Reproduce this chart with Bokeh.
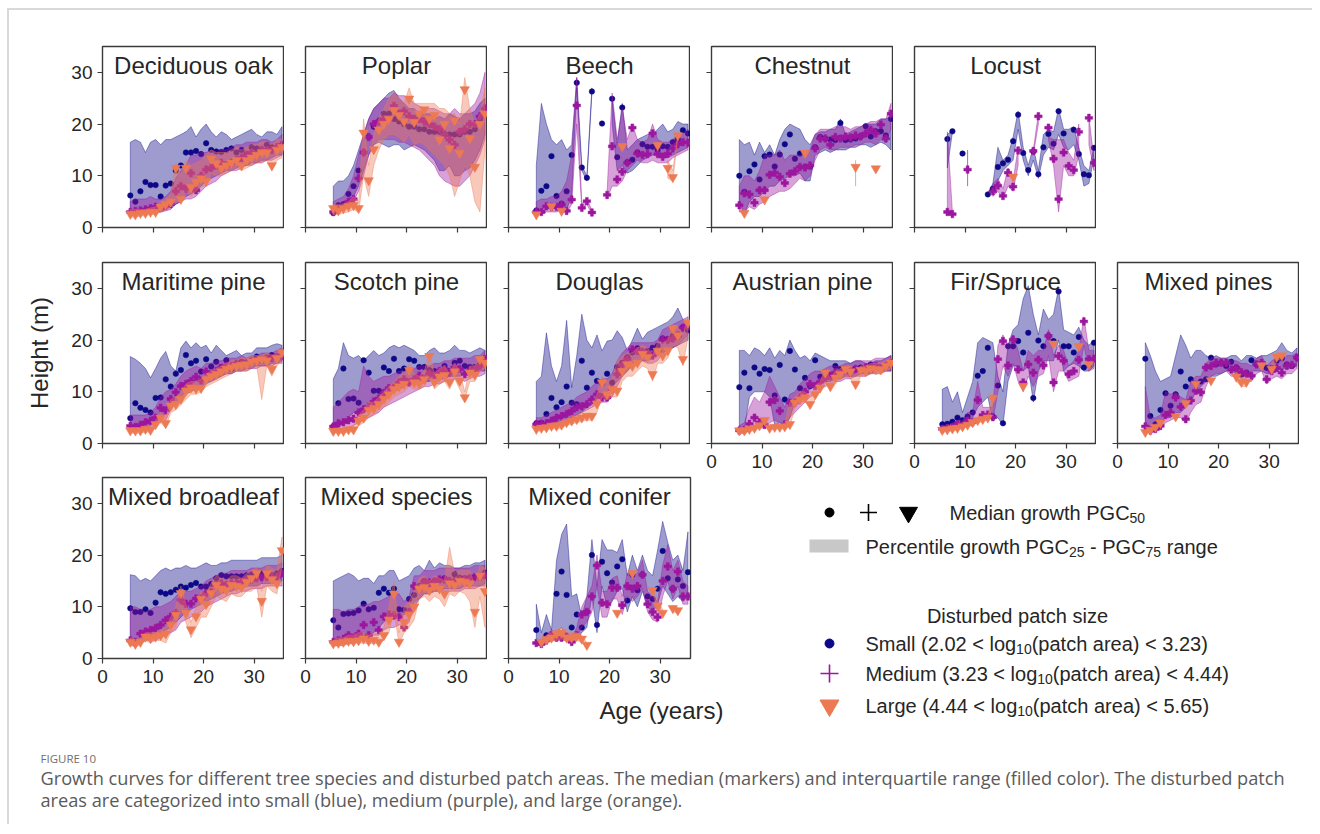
import math
from bokeh.plotting import figure
from bokeh.layouts import row, column
from bokeh.models import Range1d, FixedTicker, Label
from bokeh.core.properties import value
from bokeh.embed import file_html
from bokeh.resources import INLINE

N = float("nan")

ages = [5.5, 6.5, 7.5, 8.5, 9.5, 10.5, 11.5, 12.5, 13.5, 14.5, 15.5, 16.5, 17.5, 18.5, 19.5, 20.5,
        21.5, 22.5, 23.5, 24.5, 25.5, 26.5, 27.5, 28.5, 29.5, 30.5, 31.5, 32.5, 33.5, 34.5, 35.5]
x_ticks = [0, 10, 20, 30]
y_ticks = [0, 10, 20, 30]

# ---------------- Deciduous oak ----------------
oak_s_med = [6.2,5.0,7.0,8.8,8.2,8.2,6.0,8.1,8.5,11.0, 12.0,14.5,14.5,14.8,14.2,16.3,15.0,14.7,14.6,15.0, 15.3,14.5,15.0,14.2,15.5,15.3,15.0,16.0,15.5,15.3, 16.0]
oak_s_lo = [3,3,3,3,3,3,3,3.5,4,4.5, 5,6,6.5,7,8,9,9.5,10,10.5,11, 11,11.5,12,12,12.5,12.5,13,13,13.5,14, 14]
oak_s_hi = [16.5,17,16.5,14.5,16.5,17,16,17,17,17.5, 18,18.5,19.5,17.5,19,20,18.5,17.5,18.5,18, 17,17.5,18,18.5,19,18,17.5,18.5,18.5,18, 19.5]
oak_m_med = [3,3.2,3.3,3.5,3.7,4,3.8,4.2,4.5,7, 8,7.5,10.5,7.2,10,11.2,11.5,12,12.5,12, 12.5,13,13.5,14,14.5,14,15,15,15,15.5, 16]
oak_m_lo = [2.5,2.5,2.5,2.7,3,3,3,3.2,3.5,4.5, 5,5.5,5.5,6,7,8,8.5,9,10,10.5, 11,11,11.5,12,12,12.5,12.5,13,13,13.5, 14]
oak_m_hi = [5,5.5,5.5,5.5,6,5.5,5.5,6,7,9.5, 11,12,14,14,14.5,14.5,15,14.5,15,15, 15.5,16,16,16.5,16.5,16.5,17,17,16.5,17, 18]
oak_l_med = [2.6,2.5,2.8,2.8,3,3,4,4.5,5,11.5, 5.5,11.5,7.8,8.8,9.5,9,13.3,12.4,11.5,12, 12.5,13,12,13,13.5,14,14.5,14.5,12,15, 15.5]
oak_l_lo = [2,2,2.2,2.3,2.5,2.5,3,3.5,4,5, 5,7,6,7,8,8,10.5,10,10,10.5, 11,11.5,11,11.5,12,12.5,12.5,13,11,13, 13.5]
oak_l_hi = [3.5,3.5,3.5,3.5,3.8,4,5,5.5,6.5,12.5, 10,13,12,12.5,13,14,15,14.5,14.5,14.5, 15,15.5,15,15.5,16,16,16.5,16.5,16,17, 17]

# ---------------- Poplar ----------------
pop_s_med = [2.8,4.3,4.5,6.5,8,11,14.5,17.5,19.5,20.5, 22,22,21,20.5,20,19.5,19.5,19,19,18.5, 18.5,18.5,18,18,18,18,18.5,18.5,19,21, 22]
pop_s_lo = [2.5,3,3.5,4.5,6,8,11,14,16,16.5, 16,15.5,16,16,15,15.5,16,15.5,15,14, 13,11,11,12,10,10,11,11.5,13,15, 18]
pop_s_hi = [8,9,9,10,12,15,18,21,23,24, 25,26,26.5,25,24,23,23,22,22,22, 21,21.5,21,22,21.5,21,22,22,22.5,24, 25]
pop_m_med = [3,3.5,4,5,5.5,9.5,14.5,17.5,20,20.5, 21,21,23.5,22,22.5,21.5,21,21,20.5,20, 19.5,19,18,17,16,18.5,19,20,20,21.5, 23]
pop_m_lo = [2.5,3,3.5,4,5,7,10,14,16,17, 17,17,17,16.5,16.5,16,15.5,15,14,13, 12,10,9,8.5,8,8,9,10,12,14, 17]
pop_m_hi = [5,5.5,6,7.5,10,14,18,21,23,24, 25,25,26,25.5,25.5,25,24,23.5,23,23, 23,22.5,22,22,23,22,22,23,24,26, 30]
pop_l_med = [3.7,3.3,3.7,4.1,4.3,3.7,18.3,9.1,15.1,18.9, 20,21,22.7,21.7,20.5,24.9,20.4,22,22.8,21, 21.7,17,20,15.3,20.7,14.4,26.7,17.2,11.7,20, 22]
pop_l_lo = [2.5,2.5,2.8,3,3.5,3,10,6,12,15, 17,18,18,17.5,16.5,18,16,16.5,16,15, 14,13,12,10,6,9,12,10,5,3, 15]
pop_l_hi = [4.5,4.5,4.5,5,6,5,21,12,18,21, 23,25,26,25,24,27,24,24,24,24, 24,23,23,22,22,20,29,23,20,22, 27]

# ---------------- Beech ----------------
bee_s_med = [3.3,7.1,8,13.8,6.1,4.6,7,14,28,11.6, 9.6,26.3,N,20.1,N,24.9,13.6,23.2,12.6,13.1, 14.5,16.1,15.6,15.6,15,15.7,15.6,16.5,17,18.8, 18.2]
bee_s_lo = [3,3,3.5,4,3.5,3,3.5,6,27,11, 9,26,N,20,N,20,11,12,10.5,11, 12,13,13.5,14,14,13.5,13.5,14,14.5,15, 15.5]
bee_s_hi = [12,24,20,17,16,17,15,16,29,12, 10,27,N,20.2,N,25,16,24,15,16, 17,17.5,18,18,19,20,18.5,19,20.5,20, 20]
bee_m_med = [3,3,4.1,4,4,4.4,3.2,5.4,23.6,3.8, 5.1,2.9,N,N,6.3,15.7,9.3,10.8,12.5,19.3, 14.3,14,14.2,18.2,14.2,13.7,14.3,15.3,16.1,16.5, 16.4]
bee_m_lo = [2.5,2.5,3,3,3,3.5,2.8,4.5,20,3.5, 4.5,2.5,N,N,5.5,8,8,9,11,12, 13,12.5,12.5,13,12.5,12.5,12.5,13.5,14,14.5, 15]
bee_m_hi = [5,5.5,5.5,6,6,7,9,14,29,4.5, 5.7,3.3,N,N,7,26,17,23,17,20, 17,16.5,17,20,17,16.5,16.5,17,18,18, 19]
bee_l_med = [2.5,N,N,4.1,N,3.2,N,N,N,N, N,N,N,N,N,N,N,15.7,N,N, N,N,N,N,15.9,N,11.5,9.7,17.8,N, N]
bee_l_lo = [2.2,N,N,3.8,N,2.9,N,N,N,N, N,N,N,N,N,N,N,15.4,N,N, N,N,N,N,15.6,N,9.5,9,17.5,N, N]
bee_l_hi = [2.8,N,N,4.4,N,3.5,N,N,N,N, N,N,N,N,N,N,N,16,N,N, N,N,N,N,16.2,N,13,11,18.1,N, N]

# ---------------- Chestnut ----------------
che_s_med = [10,6.9,10.9,12.2,9.3,13.8,14.1,11.8,14.1,16.1, 18,13.3,14.3,11.7,11.8,15.5,17.5,17.2,17,16.9, 20.2,16.9,17,17.2,17.6,19.6,17.6,18.6,18.6,17.8, 21]
che_s_lo = [5,2.5,5,6,6,7,8,8,9,9.5, 10,10,10.5,9,9,14,14.5,15,14.5,15, 15,15,15.5,15.5,16,16,15.5,16,16.5,16, 15]
che_s_hi = [17,16,16.5,14,16.5,14.5,16,14,17,19, 20,19.5,19,17,16,18,18.5,18.5,19,19, 21,18,18.5,19,19.5,20,20,20,21,21, 21.5]
che_m_med = [4.3,6.6,6.4,4.8,7.2,7.2,10.2,10.6,9.8,8.6, 10.4,10.9,11.7,11.6,12,15.3,17.2,17.2,16,17.5, 17.2,17.6,17.4,17.8,17.6,18.2,18.9,18.2,19.9,17.2, 22]
che_m_lo = [3,3,4,3.5,4.5,5,6,6.5,7,7, 7.5,8.5,9.5,9,10,13,15,15.5,15,15, 15.5,15.5,15.5,16,16,16.5,16.5,16,17,16.5, 19]
che_m_hi = [8,10,10,9,11,14,14,14,15,13, 14,14,14,14.5,15,18,19,19,19,19.5, 19.5,19.5,19,19.5,19.5,20,20.5,20.5,21,21, 24]
che_l_med = [N,2.8,N,N,N,5.4,N,N,N,N, N,N,N,14.4,N,N,N,N,N,N, N,N,N,11.7,N,N,N,11.4,N,N, N]
che_l_lo = [N,2.3,N,N,N,4.9,N,N,N,N, N,N,N,13.5,N,N,N,N,N,N, N,N,N,8,N,N,N,11,N,N, N]
che_l_hi = [N,3.3,N,N,N,5.9,N,N,N,N, N,N,N,15,N,N,N,N,N,N, N,N,N,13,N,N,N,11.8,N,N, N]

# ---------------- Locust ----------------
loc_s_med = [N,17.1,18.6,N,14.3,N,N,N,N,6.4, 7.5,11.7,12.4,13.1,16.7,21.8,14.4,11.1,14.7,10.3, 15.5,18.1,16.2,22.5,18.2,N,18.9,14.2,10.3,10.1, 15.4]
loc_s_lo = [N,11.5,18.4,N,14,N,N,N,N,6.2, 7,9,11,12,13,19,13,10,13,9.5, 14,15.5,15,18,15.5,15,16,13,8,8.5, 13.5]
loc_s_hi = [N,18,18.8,N,14.6,N,N,N,N,6.6, 8.5,15.5,13,14,17.5,22.5,15.5,12,15.5,11, 18,19,18.5,23,19,19,19.5,15.5,12,11, 15.6]
loc_m_med = [N,3,2.6,N,N,11.2,N,N,N,N, 7,8.1,6.1,10.6,7.9,14.9,N,N,14.8,21.5, N,19.3,13.3,5.5,14.5,11.9,11.1,18.5,N,21.2, 12.5]
loc_m_lo = [N,2.5,2.3,N,N,8,N,N,N,N, 6,7,5.5,8,7,12,N,N,14,20, N,17,12,3,12,10,10,14,N,16, 11]
loc_m_hi = [N,18.5,3,N,N,15,N,N,N,N, 8.5,9.5,7.5,11.5,9,15.5,N,N,15,22, N,17.5,17,17,17,14.5,13,20,N,21.5, 13]
loc_l_med = [N,N,N,N,N,N,N,N,N,N, N,N,N,N,9.8,N,N,N,N,N, N,N,N,N,N,N,N,N,N,N, N]
loc_l_lo = [N,N,N,N,N,N,N,N,N,N, N,N,N,N,9.3,N,N,N,N,N, N,N,N,N,N,N,N,N,N,N, N]
loc_l_hi = [N,N,N,N,N,N,N,N,N,N, N,N,N,N,10.3,N,N,N,N,N, N,N,N,N,N,N,N,N,N,N, N]

# ---------------- Maritime pine ----------------
mar_s_med = [4.9,7.8,6.9,6.5,6,8.8,8.9,12.4,11,13.5, 14.2,17.1,15.5,16,13.9,16.3,14.9,15.8,14.8,16.1, 14.4,15.5,15.8,15.6,16,16.8,16.3,16.6,17.1,16.8, 17.6]
mar_s_lo = [3,3,3,3,3.5,4,5,6,7,7.5, 8.5,9.5,10,10.5,11,11.5,12,12.5,13,13.5, 13.5,14,14,14.5,14.5,15,15,15,15.5,15.5, 16]
mar_s_hi = [16.8,16.3,15.5,14.5,12.7,14.5,16.5,17.8,15,14, 18.5,19.8,18.5,19.5,18.5,19,17.5,19,18,17, 17.5,18,17,17.5,17.5,18.5,18.5,18.5,19,19.3, 19]
mar_m_med = [3.4,3.2,3.6,4.1,4.4,5,6.9,6.4,8.6,9.9, 11.1,11.5,12.1,12.9,12.2,13.9,13.3,14,14.6,15, 15,15.3,15.5,15.5,15.8,16,16.2,16.3,16.5,16.7, 16.9]
mar_m_lo = [2.5,2.5,2.5,3,3,3.5,4.5,4.5,6.5,8, 9,10,10.5,11,11,12,12,12.5,13,13.5, 13.5,14,14,14,14.5,14.5,15,15,15,15.5, 15.5]
mar_m_hi = [5.5,5.5,5.5,5.5,6,7,9,10,10.5,11.5, 13,14,14.5,15,14.5,15.5,15.5,16,16,16.5, 16.5,16.5,17,16.5,17,17,17.5,17.5,17.5,18, 18.5]
mar_l_med = [2.5,2.5,2.5,2.8,2.6,3.7,5,3.9,7.3,7.6, 8.6,10.2,10.8,10.6,10.7,12.4,13,13.4,13.9,14.4, 14.7,15,15.2,15.3,15.8,16,16.3,16,14.4,16.5, 17.6]
mar_l_lo = [2,2,2,2.2,2.2,3,4,3,6,6.5, 7.5,8.5,9.5,9.5,10,11,11.5,12,12.5,13, 13.5,14,14,14,14.5,15,8.5,15,13,15, 16]
mar_l_hi = [3,3,3,3.5,3.5,4.5,6,5,8.5,9, 10,11.5,12,12,12.5,13.5,14,14.5,15,15.5, 16,16,16.5,16.5,17,17,17,17.5,17,17.5, 18.5]

# ---------------- Scotch pine ----------------
sco_s_med = [3.3,7.8,14.5,8.6,8.7,7.9,16.1,13.7,10.2,10.2, 14.7,14,16.4,14,14.5,16.3,16,14.8,14.8,14.2, 14,14,15,14,15.6,16,15,14.8,14.8,15.3, 15.6]
sco_s_lo = [3,3,4,5,6,5.5,6,6.5,7,8, 9,9.5,10,10.5,11,11.5,11.5,12,12,12, 12.5,12.5,12.5,13,13,13,13.5,13.5,13.5,14, 14]
sco_s_hi = [12.5,14.5,19.5,17,16.5,17,16,17,18,17, 17.5,18.5,19,18.5,19,18.5,18,17,17,18, 18.5,17.5,17.5,18,19,18,18,17.5,18,18.5, 18]
sco_m_med = [3.3,3.9,4.1,4.5,4.8,6,6.6,7.1,8.1,8.7, 9.8,10.7,10.8,11.8,12.4,11.8,12.4,13.1,12.4,13.5, 13.2,14,14.4,13.7,14.7,14.4,13.4,14.1,14.4,15, 16.3]
sco_m_lo = [2.5,2.5,3,3,3.5,4,4.5,5,5.5,6, 7,7.5,8,8.5,9,9.5,10,10.5,11,11, 11.5,11.5,12,12,12.5,12.5,12,12.5,13,13, 13.5]
sco_m_hi = [7,8,9,10,10.5,10,15,13,12,12.5, 13,13,13.5,14,14,14,14.5,15,15,15, 15.5,15.5,16,16,16.5,16.5,16.5,16.5,17,17, 18]
sco_l_med = [2.4,2.4,2.4,2.7,2.7,4.4,5,6.5,6.8,7.6, 8.6,9.5,10.5,11,11.5,14.2,11.8,11.6,12.4,16.9, 11.9,12.9,13.2,11.9,13.9,12.1,8.9,13.7,13.3,16.3, 15.6]
sco_l_lo = [2,2,2,2.2,2.2,3.5,4,5,5.5,6.5, 7,8,9,9.5,10,11,10.5,10.5,11,13, 10.5,11.5,12,10.5,12.5,10.5,8.5,12,12,14, 14.5]
sco_l_hi = [3,3,3,3.2,3.5,5.5,6.5,8,8,9, 10,11,12,13,13.5,15.5,13.5,13,14,17.5, 13.5,14.5,15,13.5,15.5,14,10,15,15,17, 16.5]

# ---------------- Douglas ----------------
dou_s_med = [3.9,4,5.7,8.8,7,8,11,7.9,7.6,16, 10.8,13.7,12.1,11.6,13.5,11.8,14.8,15.6,16.7,17.6, 18.4,17.3,17.9,18.5,18.9,20.3,20.2,20.8,21.1,22.5, 21.9]
dou_s_lo = [3,3,3,3.5,3.5,4,4.5,5,5.5,6, 7,7.5,8.5,9.5,10,11,12,13,14,15, 15.5,16,16,16.5,17,17.5,18,18.5,19,19.5, 20]
dou_s_hi = [12,13,21.4,15,12,15,23.8,10.8,17,25, 20,18.5,21,17.9,19.8,20,21.8,20.5,18,20, 22.3,20.2,21.5,22,22.5,23,23.5,24.5,26.2,24, 23.4]
dou_m_med = [3.7,3.8,3.9,4.4,5,5.3,5.7,6.3,7,7.2, 7.6,8.5,9.5,8.9,8.9,10.5,13.4,15.2,16.3,18.2, 17.9,17.7,17.3,17,17.9,20.1,20,20.3,20.8,22.4, 22.7]
dou_m_lo = [3,3,3,3.5,4,4.5,4.5,5,5.5,6, 6.5,7,7.5,8,8,9,11,13,14,15.5, 16,16,15.5,15.5,16,17.5,18,18.5,19,20, 21]
dou_m_hi = [5,5,5.5,6,6.5,7,7.5,8,9,9.5, 10,11,12,12.5,12.5,13.5,16,17.5,18.5,19.5, 19.5,19.5,19.5,19.5,20,22,22.5,23,23.5,24, 24.5]
dou_l_med = [2.8,3,3.1,3.4,3.4,3.6,4.1,4.4,4.7,5, 5.3,5.3,7.7,11.8,9.5,10.5,10.2,14,15.3,15, 15.6,17.3,16.7,13.4,17.9,17,18,22.3,20.9,16.3, 23.4]
dou_l_lo = [2.3,2.5,2.6,2.8,2.8,3,3.5,3.8,4,4.3, 4.5,4.5,6,9,8.5,9,9,12,13,13, 14,15,14.5,12,15.5,15.5,16.5,19,18.5,15, 20.5]
dou_l_hi = [3.3,3.5,3.6,4,4,4.2,4.7,5,5.5,6, 6.5,7,9.5,13,12,12.5,16,17,17.5,17.5, 18.5,19,18.5,17,19.5,19.5,20,23,22.5,21, 24.5]

# ---------------- Austrian pine ----------------
aus_s_med = [10.9,13.7,10.7,14.7,13.5,14.4,14.2,9.3,15.2,8.5, 17.9,14.3,10.7,12.7,11.1,16.1,12.9,13.7,12.9,15, 14.4,14,14,14.5,14.7,14.3,15.3,15,14.8,15, 15.6]
aus_s_lo = [2.5,2.8,9,10,10,10,9,3.5,4,3.5, 5,8,9,10,10.5,11,11.5,12,12,12.5, 12.5,13,13,13,13.5,13.5,13.5,14,14,14, 14]
aus_s_hi = [18,18,17,18.5,18,17,18.5,16.5,18,17, 20,18,16.5,17,16,17.5,17,16.5,16,16, 16,16,15.5,16,16,15.5,15.5,16,16,16.5, 17]
aus_m_med = [2.5,2.6,3.8,5,4.1,3.6,8,8.4,6.3,3.7, 7.9,7.9,8.9,10,11.5,11.1,11.9,12.6,13.1,13.7, 13.5,14.2,13.7,14.4,14.2,14.7,14.5,15,14.6,15, 15.6]
aus_m_lo = [2,2,2.5,3,3,3,4,4.5,4,3, 5,6,7,8,9,9.5,10.5,11,11.5,12, 12,12.5,12.5,13,13,13,13.5,13.5,13.5,14, 14]
aus_m_hi = [3.5,4,7,9,8,10,13,11,9,7, 9.5,10,11.5,12.5,13.5,14,14,14.5,15,15, 15,15.5,15.5,16,16,16,16,16.5,16.5,16.5, 17]
aus_l_med = [2.5,2.5,2.8,3,3.5,4.5,3,3.2,3.2,3.3, 3.7,7.9,8.5,8.9,7.6,9.5,10.8,13.7,11.1,12.7, 13.4,14.4,13.9,11.5,14.2,14,14.5,14.3,14.3,15, 15.6]
aus_l_lo = [2,2,2.3,2.5,3,4,2.5,2.8,2.8,2.8, 3.2,7,8,8,7,8.5,10,12,10,11.5, 12.5,13,12.5,10.5,13,13,13.5,13.5,13.5,14, 14.5]
aus_l_hi = [3,3,3.3,3.5,4,5,3.5,3.6,3.6,3.8, 8,9,10,10,9,11,12,14.5,12.5,14, 14.5,15,15,13,15,15,15.5,15.5,15.5,16, 16.5]

# ---------------- Fir/Spruce ----------------
fir_s_med = [3.7,3.8,4.2,5,4.5,5.2,6,13.1,14,18.5, 5.2,11.2,3.9,18.8,18.8,19.8,17.6,21.4,8.8,19.9, 18.8,20.8,19.8,29.4,18.8,18.8,17.6,20.6,14.7,15.2, 19.5]
fir_s_lo = [3,3,3.5,4,4,4.5,5,7,8,9, 4.5,5,3.5,12,15,15,14,15,8,14, 16,16,16,20,14,15,15.5,15,14,14, 15]
fir_s_hi = [10.5,11,8,10,6,9,12,19.5,20.5,20, 19.5,13,10,19,22,23,28,30.5,25,21, 26,24,25,30,22,21.5,21,22.5,20,19, 20]
fir_m_med = [2.8,3,3.1,3.7,3.5,4.4,4.1,8.4,5.5,5.6, 5.1,16.3,19.8,15.1,20.1,14.3,11.8,15.3,13.7,16.2, 15.1,20.8,11.8,16.9,16,13.4,14,16.2,23.6,16.3, 16.4]
fir_m_lo = [2.5,2.5,2.5,3,3,3.5,3.5,5,4.5,5, 4.5,10,15,13,15.5,12,10,13,11,13, 13.5,17,10,14,14,12,12.5,13,19,14, 14.5]
fir_m_hi = [3.5,3.5,4,4.5,4.5,6,6,12,7,7, 7,19,21,19,21,18,14,18,17,18, 18,22,17,19,18,15,16,18,24.5,18, 18]
fir_l_med = [2.6,2.7,2.9,3,3.3,3.6,4.1,4.5,4.7,5, 8.8,N,N,N,N,N,11.1,N,N,N, N,N,19.3,N,N,N,N,18.8,N,15.3, N]
fir_l_lo = [2.2,2.3,2.5,2.6,2.9,3.2,3.6,4,4.2,4.5, 7,N,N,N,N,N,10.6,N,N,N, N,N,18.8,N,N,N,N,18.3,N,14.8, N]
fir_l_hi = [3,3.1,3.3,3.4,3.7,4,4.6,5,5.2,5.5, 9.5,N,N,N,N,N,11.6,N,N,N, N,N,19.8,N,N,N,N,19.3,N,15.8, N]

# ---------------- Mixed pines ----------------
mpi_s_med = [16.4,5.3,3.7,6.5,9.7,7.3,9.5,13.9,11,12.4, 11.6,12,12.4,16.6,15.3,15.6,15,15.8,14.7,13.3, 13.7,16.1,15.3,15.4,14.6,14.6,16,16.5,15.3,15, 16.6]
mpi_s_lo = [3,3,3,4,5,5,6,6,7,8, 10,11,12,13,13,13.5,14,14,13.5,13, 13,14,14,14,13.5,13.5,14,14.5,14.5,14.5, 15]
mpi_s_hi = [19.5,17,14,12,12.5,13,17,21,19,16.5, 18,18,17,16.5,17,16.5,16.5,17,17,16, 17,17,16.5,17,17,17.5,18,19.5,18,17.5, 18.5]
mpi_m_med = [3.3,2.5,2.8,3.4,5.5,6,8.9,7.1,4.7,8.3, 10.2,9.9,14.7,15,15.6,15.6,15.6,14.3,14.6,13.8, 13.5,13.1,15.3,15.6,12.4,14,14.6,13.7,15,15.2, 16.6]
mpi_m_lo = [2.5,2,2.3,2.7,4,4.5,5,5,4,6, 7.5,8,11,13,13.5,13.5,14,13,13,12.5, 12,12,13.5,14,11.5,12.5,13,12.5,13.5,13.5, 14.5]
mpi_m_hi = [11,5,5,5.5,10,9.5,10,9,8.5,12, 13,13,15.5,16.5,16.5,16.5,16.5,16,16,15.5, 15.5,15,16.5,17,15,16,16.5,16,17,17, 17.5]
mpi_l_med = [2.2,2.6,3.2,4,N,N,5.2,N,7.8,N, 11.5,N,N,12.2,N,N,N,N,12.9,11.9, 11.9,N,N,15.1,N,14.4,16.8,17,N,N, N]
mpi_l_lo = [1.8,2.2,2.8,3.5,N,N,4.7,N,7,N, 10.5,N,N,11.5,N,N,N,N,12,11, 11,N,N,14.5,N,13.5,16,16.5,N,N, N]
mpi_l_hi = [2.6,3,3.6,4.5,N,N,5.7,N,8.5,N, 12.5,N,N,13,N,N,N,N,13.8,12.8, 12.8,N,N,15.7,N,15.3,17.5,17.5,N,N, N]

# ---------------- Mixed broadleaf ----------------
mbr_s_med = [9.7,9,9,9.5,8.8,10.8,12.8,12.5,12.8,13.3, 13.9,13.7,14.2,14.6,13.9,13.9,14.4,15.5,16.1,15.9, 15.9,15.9,15.9,16.1,16.3,16.5,16.5,16.5,16.1,16.5, 16.9]
mbr_s_lo = [3,3,3,3.5,4,4.5,5,5.5,6,7, 8,9,9.5,10,10.5,11,11.5,12,12.5,13, 13,13.5,13.5,14,14,14,14.5,14.5,14.5,14.5, 15]
mbr_s_hi = [16.2,16,15,15.5,15,16,17,17.5,17,17.5, 17.5,18,17.5,17.5,18,18.5,18,18,18.5,18.5, 19,19,19,19,19,19,19.5,19.5,19.5,19.5, 20]
mbr_m_med = [3.5,3.2,4.8,5.2,5.5,5.9,6.5,7.4,8.1,8.8, 11.3,10.6,10.6,11.6,11.6,12.6,12.8,14.2,14.5,14.2, 14.5,14.6,14.8,15.2,15.2,15.5,15.7,15.8,15.8,15.8, 16.5]
mbr_m_lo = [2.5,2.5,3,3.5,3.5,3.5,4,4.5,5,5.5, 7,7.5,8,8.5,9,10,10.5,11,11.5,12, 12.5,12.5,13,13,13.5,13.5,13.5,14,14,14, 14]
mbr_m_hi = [10,10,9.5,9,9.5,10,10,10.5,11,12, 13,13,13,13.5,14,15,15.5,16,16.5,16.5, 17,17,17,17,17.5,17.5,17.5,18,18,18, 18.5]
mbr_l_med = [3.2,2.8,3.2,4.2,3.9,4.2,4.5,4.8,6.5,8.4, 12.6,8.8,5.6,8.1,11.5,10.5,12.6,14.2,13.5,13.2, 14.2,14,13.8,14.8,15.5,16.5,11.1,16.5,15.3,14.5, 20.9]
mbr_l_lo = [2.5,2.3,2.5,3.5,3,3.5,3.5,3,5,6, 10,7,4,6,8,8,10,12,11.5,11, 12.5,12,12,13,13,14,8,14,13,12.5, 18]
mbr_l_hi = [4,3.5,4,5,5,5,5.5,6,8,10, 14,10.5,7,10,13,12.5,14.5,16,15.5,15, 16,16,15.5,16.5,17,17.5,13,18,17.5,17, 23.5]

# ---------------- Mixed species ----------------
msp_s_med = [7.4,6,8.6,8.7,8.8,9.3,10.6,9.5,9.8,12.7, 13.5,12.7,13.5,9.5,9.4,11.5,12.3,14,15,14.5, 15,15.2,15.5,14.4,16.3,15.6,15.5,15.6,15.8,16, 16.6]
msp_s_lo = [3,3,3,3,3,3.5,4,4.5,5,6, 7,8,8.5,8,8.5,9,10,11.5,12.5,12.5, 13,13,13.5,13.5,13.5,13.5,14,14,14,14, 14.5]
msp_s_hi = [15,15.5,16,16.5,16,15,15.5,15.5,14.5,16, 16,17,17,15,15.5,16,17.5,18,17,19, 17.5,18.5,18,18,17.5,17.5,18,18,18.5,18.5, 19]
msp_m_med = [3.2,3.5,3.8,4.5,4,4.8,6.5,4.5,7,5.5, 8.1,8.5,8.3,8,6,9,14,13.5,14.8,14.7, 14.9,15.3,15.3,15,15,15.2,15.3,15.5,15.7,15.8, 16.1]
msp_m_lo = [2.5,2.5,2.5,3,3,3.5,4,3.5,4.5,4.5, 5.5,6,6,6.5,6,7,11,11.5,12.5,12.5, 13,13,13,13,13,13,13.5,13.5,13.5,14, 14]
msp_m_hi = [9.5,9.5,9,9.5,9.5,10,10.5,10.5,11,11, 11.5,12,12.5,12.5,11,12,16,16,17,17, 17,17.5,17.5,17.5,17.5,17.5,17.5,17.5,18,18, 18]
msp_l_med = [2.9,3,3.2,3.4,3.3,3.5,3.8,3.4,3.6,3.2, 4.5,7.5,12.5,3.2,7,8.5,10,13.5,13.8,13.2, 14,13.5,12.5,14.5,14.2,15,14.8,14.5,9,16, 13]
msp_l_lo = [2.3,2.5,2.5,2.8,2.8,3,3,2.8,3,2.8, 3.5,5,9,2.8,5,6,7.5,11.5,12,11, 12,11.5,10,12.5,12,13,12.5,11,6,12, 6]
msp_l_hi = [3.5,4,4,4.5,4.5,5,5,4.5,5,4.5, 6,10,15,5,10,11,13,15.5,16,15, 16,15.5,15,21.5,16.5,17,17,17,14,18, 17.5]

# ---------------- Mixed conifer ----------------
mco_s_med = [5.5,3,4.5,4,12.5,16.8,12.3,6,8.5,6, 9,20,6.5,18.7,16.5,14.7,17.8,19.2,11.2,16.2, 13.2,16.2,12,11.5,13.5,20.8,15.5,13.5,15.3,14, 16.7]
mco_s_lo = [2.5,3,3.5,3.5,5,6,4,4.5,4.5,5, 6,12,5,14,10,11,13,13.5,9,12, 10,13,10,9,10.5,14,12.5,11,12,11, 12]
mco_s_hi = [10.5,5,8.5,5.5,19,24,26,12,12.5,8, 12,23,14,23,21,21,20.5,23,16,20, 17,20,17,16,21,26.5,22.5,19,20,17, 24.5]
mco_m_med = [3,2.8,3.5,4.5,4,4,4.2,3.2,4.5,8.5, 9,12,18,10.8,10.5,13.7,13.7,10.3,14,13.5, 14,16.2,10.5,9,8,15,17.8,13.5,16.8,12, 12]
mco_m_lo = [2.5,2.5,3,3.5,3.5,3.5,3.5,2.8,4,6, 7,9,14,8,8,11.5,11.5,8.5,12,11, 12,13.5,9,7.5,7,12,15,11.5,14,10.5, 10.5]
mco_m_hi = [3.5,3.5,4.5,5.5,5,5,5,4,6,10, 12,14,20,13,13,15.5,16,12,16.5,16, 16.5,19,13,12,11,18,22,17,19,15, 14]
mco_l_med = [N,3.2,3.7,4,4.8,5,4,4,4.3,3.8, 2.6,N,N,N,N,N,8.8,N,N,16.5, N,N,N,13.2,10.2,8.8,N,9.7,9.3,N, N]
mco_l_lo = [N,2.7,3,3.3,3.5,3.8,3.3,3.4,3.6,3, 2.2,N,N,N,N,N,8.3,N,N,16, N,N,N,12.7,9.5,8.2,N,9,8.8,N, N]
mco_l_hi = [N,3.7,4.5,5,5.5,6,5,5,5,4.5, 3,N,N,N,N,N,9.3,N,N,17, N,N,N,13.7,11,9.5,N,10.3,9.8,N, N]

titles = ["Deciduous oak", "Poplar", "Beech", "Chestnut", "Locust",
          "Maritime pine", "Scotch pine", "Douglas", "Austrian pine", "Fir/Spruce", "Mixed pines",
          "Mixed broadleaf", "Mixed species", "Mixed conifer"]

x_axis_title = "Age (years)"
y_axis_title = "Height (m)"
legend_median = "Median growth PGC"
legend_range = ["Percentile growth PGC", "25", " - PGC", "75", " range"]
legend_title = "Disturbed patch size"
size_labels = [("Small (2.02 < log", "(patch area) < 3.23)"),
               ("Medium (3.23 < log", "(patch area) < 4.44)"),
               ("Large (4.44 < log", "(patch area) < 5.65)")]
caption_head = "FIGURE 10"
caption_lines = ["Growth curves for different tree species and disturbed patch areas. The median (markers) and interquartile range (filled color). The disturbed patch",
                 "areas are categorized into small (blue), medium (purple), and large (orange)."]

# ---------------- build table from the named lists ----------------
def trio(a, b, c):
    return (a, b, c)

panel_data = {
    "Deciduous oak": [trio(oak_s_med, oak_s_lo, oak_s_hi), trio(oak_m_med, oak_m_lo, oak_m_hi), trio(oak_l_med, oak_l_lo, oak_l_hi)],
    "Poplar": [trio(pop_s_med, pop_s_lo, pop_s_hi), trio(pop_m_med, pop_m_lo, pop_m_hi), trio(pop_l_med, pop_l_lo, pop_l_hi)],
    "Beech": [trio(bee_s_med, bee_s_lo, bee_s_hi), trio(bee_m_med, bee_m_lo, bee_m_hi), trio(bee_l_med, bee_l_lo, bee_l_hi)],
    "Chestnut": [trio(che_s_med, che_s_lo, che_s_hi), trio(che_m_med, che_m_lo, che_m_hi), trio(che_l_med, che_l_lo, che_l_hi)],
    "Locust": [trio(loc_s_med, loc_s_lo, loc_s_hi), trio(loc_m_med, loc_m_lo, loc_m_hi), trio(loc_l_med, loc_l_lo, loc_l_hi)],
    "Maritime pine": [trio(mar_s_med, mar_s_lo, mar_s_hi), trio(mar_m_med, mar_m_lo, mar_m_hi), trio(mar_l_med, mar_l_lo, mar_l_hi)],
    "Scotch pine": [trio(sco_s_med, sco_s_lo, sco_s_hi), trio(sco_m_med, sco_m_lo, sco_m_hi), trio(sco_l_med, sco_l_lo, sco_l_hi)],
    "Douglas": [trio(dou_s_med, dou_s_lo, dou_s_hi), trio(dou_m_med, dou_m_lo, dou_m_hi), trio(dou_l_med, dou_l_lo, dou_l_hi)],
    "Austrian pine": [trio(aus_s_med, aus_s_lo, aus_s_hi), trio(aus_m_med, aus_m_lo, aus_m_hi), trio(aus_l_med, aus_l_lo, aus_l_hi)],
    "Fir/Spruce": [trio(fir_s_med, fir_s_lo, fir_s_hi), trio(fir_m_med, fir_m_lo, fir_m_hi), trio(fir_l_med, fir_l_lo, fir_l_hi)],
    "Mixed pines": [trio(mpi_s_med, mpi_s_lo, mpi_s_hi), trio(mpi_m_med, mpi_m_lo, mpi_m_hi), trio(mpi_l_med, mpi_l_lo, mpi_l_hi)],
    "Mixed broadleaf": [trio(mbr_s_med, mbr_s_lo, mbr_s_hi), trio(mbr_m_med, mbr_m_lo, mbr_m_hi), trio(mbr_l_med, mbr_l_lo, mbr_l_hi)],
    "Mixed species": [trio(msp_s_med, msp_s_lo, msp_s_hi), trio(msp_m_med, msp_m_lo, msp_m_hi), trio(msp_l_med, msp_l_lo, msp_l_hi)],
    "Mixed conifer": [trio(mco_s_med, mco_s_lo, mco_s_hi), trio(mco_m_med, mco_m_lo, mco_m_hi), trio(mco_l_med, mco_l_lo, mco_l_hi)],
}

# ---------------- styling ----------------
FONT = "Liberation Sans"
CAP_FONT = "Open Sans"
TXT = "#262626"
COLORS = ["#0d0887", "#9c179e", "#ed7953"]
MARKERS = ["circle", "plus", "inverted_triangle"]
MSIZES = [5.5, 7.5, 9.5]
BAND_ALPHA = 0.4

FRAME_W, FRAME_H = 182, 181
X_END, Y_END = 36, 35
LEFT0, LEFTN = 93, 21
ROW_BORDERS = [(36, 34), (1, 33), (1, 33)]
AGE_H = 33

W = {' ': 278, '(': 333, ')': 333, '-': 333, '.': 278, '<': 584, '/': 278,
     'A': 667, 'C': 722, 'D': 722, 'G': 778, 'L': 556, 'M': 833, 'P': 667, 'S': 667,
     'a': 556, 'b': 556, 'c': 500, 'd': 556, 'e': 556, 'g': 556, 'h': 556, 'i': 222,
     'l': 222, 'm': 833, 'n': 556, 'o': 556, 'p': 556, 'r': 333, 's': 500, 't': 278,
     'u': 556, 'w': 722, 'z': 500, 'y': 500, 'k': 500, 'f': 278, 'v': 500, 'x': 500}


def tw(s, px):
    return sum(W.get(ch, 556) for ch in s) * px / 1000.0


def isnan(v):
    return v is None or (isinstance(v, float) and math.isnan(v))


def band_polys(xs, lo, hi):
    runs, cur = [], []
    for x, a, b in zip(xs, lo, hi):
        if isnan(a) or isnan(b):
            if cur:
                runs.append(cur)
            cur = []
        else:
            cur.append((x, a, b))
    if cur:
        runs.append(cur)
    pxs = [[r[0] for r in run] + [r[0] for r in reversed(run)] for run in runs]
    pys = [[r[1] for r in run] + [r[2] for r in reversed(run)] for run in runs]
    return pxs, pys


def blank_fig(w, h):
    f = figure(width=w, height=h, x_range=Range1d(0, w), y_range=Range1d(h, 0),
               output_backend="svg", toolbar_location=None, title=None,
               min_border_left=0, min_border_right=0, min_border_top=0, min_border_bottom=0)
    f.axis.visible = False
    f.grid.visible = False
    f.outline_line_color = None
    f.background_fill_color = "white"
    f.border_fill_color = "white"
    return f


def make_panel(title, col, rown, show_x, show_y, ylabel=None, extra_right=0):
    bl = LEFT0 if col == 0 else LEFTN
    bt, bb = ROW_BORDERS[rown]
    p = figure(width=bl + FRAME_W + extra_right, height=bt + FRAME_H + bb,
               x_range=Range1d(0, X_END), y_range=Range1d(0, Y_END),
               output_backend="svg", toolbar_location=None, title=None,
               min_border_left=bl, min_border_right=extra_right,
               min_border_top=bt, min_border_bottom=bb)
    p.grid.visible = False
    p.outline_line_color = "#3a3a3a"
    p.outline_line_width = 1.4
    p.background_fill_color = "white"
    p.border_fill_color = "white"
    p.xaxis.ticker = FixedTicker(ticks=x_ticks)
    p.yaxis.ticker = FixedTicker(ticks=y_ticks)
    for ax in (p.xaxis[0], p.yaxis[0]):
        ax.axis_line_color = None
        ax.major_tick_out = 5
        ax.major_tick_in = 0
        ax.minor_tick_out = 0
        ax.minor_tick_in = 0
        ax.major_tick_line_color = "#3a3a3a"
        ax.major_tick_line_width = 1.2
        ax.major_label_text_font = FONT
        ax.major_label_text_font_size = "19px"
        ax.major_label_text_color = TXT
        ax.major_label_standoff = 5
    p.xaxis.major_label_standoff = 6
    if not show_x:
        p.xaxis.major_label_overrides = {t: "" for t in x_ticks}
    if not show_y:
        p.yaxis.major_label_overrides = {t: "" for t in y_ticks}
    if ylabel:
        p.yaxis.axis_label = ylabel
        p.yaxis.axis_label_text_font = FONT
        p.yaxis.axis_label_text_font_size = "24px"
        p.yaxis.axis_label_text_font_style = "normal"
        p.yaxis.axis_label_text_color = TXT
        p.yaxis.axis_label_standoff = 15

    for (med, lo, hi), c, mk, ms in zip(panel_data[title], COLORS, MARKERS, MSIZES):
        pxs, pys = band_polys(ages, lo, hi)
        if pxs:
            p.patches(xs=pxs, ys=pys, fill_color=c, fill_alpha=BAND_ALPHA,
                      line_color=c, line_alpha=0.45, line_width=0.9)
        p.scatter(x=ages, y=med, marker=mk, size=ms, fill_color=c, line_color=c, line_width=0.5)

    ypx = FRAME_H / Y_END
    p.add_layout(Label(x=X_END / 2, y=Y_END - 18.5 / ypx, text=title, text_align="center",
                       text_baseline="middle", text_font=FONT, text_font_size="24px",
                       text_color=TXT))
    return p


grid_pos = [(0, 0), (1, 0), (2, 0), (3, 0), (4, 0),
            (0, 1), (1, 1), (2, 1), (3, 1), (4, 1), (5, 1),
            (0, 2), (1, 2), (2, 2)]

rows = [[], [], []]
for t, (c, r) in zip(titles, grid_pos):
    show_x = (r == 2) or (r == 1 and c >= 3)
    show_y = (c == 0)
    ylabel = y_axis_title if (r == 1 and c == 0) else None
    extra = 40 if (r == 2 and c == 2) else 0
    rows[r].append(make_panel(t, c, r, show_x, show_y, ylabel, extra))

# strip under the bottom-left panels carrying the shared x-axis title
row3_w = sum(f.width for f in rows[2])
age_fig = blank_fig(row3_w, AGE_H)
age_fig.text(x=[661 - 9], y=[AGE_H / 2 + 2], text=[x_axis_title], text_font=value(FONT),
             text_font_size="24px", text_baseline="middle", text_align="center", text_color=TXT)

# ---------------- legend panel ----------------
LW = 582
LH = ROW_BORDERS[2][0] + FRAME_H + ROW_BORDERS[2][1] + AGE_H
lg = blank_fig(LW, LH)


def rich(p, x, y, parts, size=20):
    for t, sub in parts:
        fs = 14 if sub else size
        lead = len(t) - len(t.lstrip(" "))
        body = t.strip(" ")
        p.text(x=[x + tw(" " * lead, fs)], y=[y + (5 if sub else 0)], text=[body],
               text_font=value(FONT), text_font_size=f"{fs}px", text_baseline="middle",
               text_align="left", text_color=TXT)
        x += tw(t, fs)


lg.scatter(x=[99], y=[36], marker="circle", size=9, color="black")
lg.scatter(x=[138], y=[36], marker="cross", size=17, line_color="black", line_width=1.6)
lg.scatter(x=[178], y=[36], marker="inverted_triangle", size=18, color="black")
rich(lg, 219, 36, [(legend_median, False), ("50", True)])
lg.quad(left=[79], right=[118], top=[63], bottom=[76], fill_color="#c8c8c8", line_color=None)
rich(lg, 135, 70, [(legend_range[0], False), (legend_range[1], True), (legend_range[2], False),
                   (legend_range[3], True), (legend_range[4], False)])
lg.text(x=[287], y=[139], text=[legend_title], text_font=value(FONT), text_font_size="20px",
        text_baseline="middle", text_align="center", text_color=TXT)
ys_leg = [167, 197, 229]
lg.scatter(x=[99], y=[ys_leg[0]], marker="circle", size=9, color=COLORS[0])
lg.scatter(x=[99], y=[ys_leg[1]], marker="cross", size=18, line_color=COLORS[1], line_width=1.6)
lg.scatter(x=[99], y=[ys_leg[2]], marker="inverted_triangle", size=19, color=COLORS[2])
for (a, b), yy in zip(size_labels, ys_leg):
    rich(lg, 135, yy, [(a, False), ("10", True), (b, False)])

# ---------------- caption ----------------
CW, CH = 1302, 100
cap = blank_fig(CW, CH)
cap.text(x=[31], y=[34], text=[caption_head], text_font=value(CAP_FONT), text_font_size="11.5px",
         text_baseline="middle", text_align="left", text_color="#6e6e6e")
cap.text(x=[31, 31], y=[53, 75], text=caption_lines, text_font=value(CAP_FONT),
         text_font_size="18.2px", text_baseline="middle", text_align="left", text_color="#5a5a5a")

layout = column(row(*rows[0]), row(*rows[1]),
                row(column(row(*rows[2]), age_fig), column(lg)), cap,
                styles={"border-top": "2px solid #d9d9d9", "border-left": "2px solid #d9d9d9",
                        "margin-top": "8px", "margin-left": "7px"})

open("out.html", "w").write(file_html(layout, INLINE))
